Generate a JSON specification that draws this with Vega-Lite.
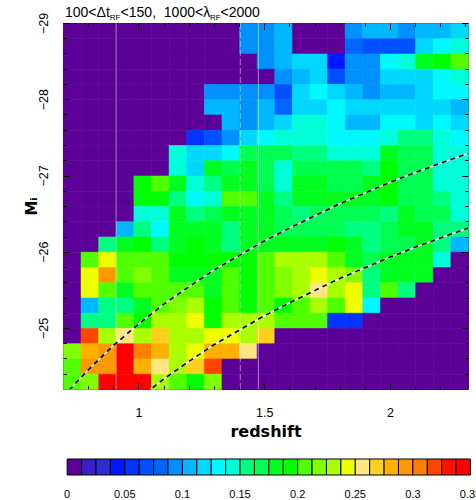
{
  "$schema": "https://vega.github.io/schema/vega-lite/v6.json",
  "padding": {"left": 23, "top": 5, "right": 0, "bottom": 0},
  "background": "#ffffff",
  "config": {
    "font": "Liberation Sans",
    "view": {"stroke": "#222222", "strokeWidth": 1},
    "axis": {"grid": false, "domain": false, "labelColor": "#000000", "tickColor": "#000000", "titleColor": "#000000", "tickWidth": 1}
  },
  "bounds": "flush",
  "spacing": 70,
  "datasets": {
    "cells": [
      {"z":0.735,"M":-28.9,"v":0},{"z":0.805,"M":-28.9,"v":0},{"z":0.875,"M":-28.9,"v":0},{"z":0.945,"M":-28.9,"v":0},{"z":1.015,"M":-28.9,"v":0},{"z":1.085,"M":-28.9,"v":0},{"z":1.155,"M":-28.9,"v":0},{"z":1.225,"M":-28.9,"v":0},{"z":1.295,"M":-28.9,"v":0},{"z":1.365,"M":-28.9,"v":0},{"z":1.435,"M":-28.9,"v":0.094},{"z":1.505,"M":-28.9,"v":0.094},{"z":1.575,"M":-28.9,"v":0.106},{"z":1.645,"M":-28.9,"v":0},{"z":1.715,"M":-28.9,"v":0},{"z":1.785,"M":-28.9,"v":0},{"z":1.855,"M":-28.9,"v":0.094},{"z":1.925,"M":-28.9,"v":0.106},{"z":1.995,"M":-28.9,"v":0.106},{"z":2.065,"M":-28.9,"v":0.094},{"z":2.135,"M":-28.9,"v":0.106},{"z":2.205,"M":-28.9,"v":0.106},{"z":2.275,"M":-28.9,"v":0.119},
      {"z":0.735,"M":-28.7,"v":0},{"z":0.805,"M":-28.7,"v":0},{"z":0.875,"M":-28.7,"v":0},{"z":0.945,"M":-28.7,"v":0},{"z":1.015,"M":-28.7,"v":0},{"z":1.085,"M":-28.7,"v":0},{"z":1.155,"M":-28.7,"v":0},{"z":1.225,"M":-28.7,"v":0},{"z":1.295,"M":-28.7,"v":0},{"z":1.365,"M":-28.7,"v":0},{"z":1.435,"M":-28.7,"v":0.094},{"z":1.505,"M":-28.7,"v":0.094},{"z":1.575,"M":-28.7,"v":0.106},{"z":1.645,"M":-28.7,"v":0},{"z":1.715,"M":-28.7,"v":0},{"z":1.785,"M":-28.7,"v":0},{"z":1.855,"M":-28.7,"v":0.081},{"z":1.925,"M":-28.7,"v":0.069},{"z":1.995,"M":-28.7,"v":0.069},{"z":2.065,"M":-28.7,"v":0.069},{"z":2.135,"M":-28.7,"v":0.119},{"z":2.205,"M":-28.7,"v":0.131},{"z":2.275,"M":-28.7,"v":0.144},
      {"z":0.735,"M":-28.5,"v":0},{"z":0.805,"M":-28.5,"v":0},{"z":0.875,"M":-28.5,"v":0},{"z":0.945,"M":-28.5,"v":0},{"z":1.015,"M":-28.5,"v":0},{"z":1.085,"M":-28.5,"v":0},{"z":1.155,"M":-28.5,"v":0},{"z":1.225,"M":-28.5,"v":0},{"z":1.295,"M":-28.5,"v":0},{"z":1.365,"M":-28.5,"v":0},{"z":1.435,"M":-28.5,"v":0},{"z":1.505,"M":-28.5,"v":0.094},{"z":1.575,"M":-28.5,"v":0.106},{"z":1.645,"M":-28.5,"v":0.119},{"z":1.715,"M":-28.5,"v":0.119},{"z":1.785,"M":-28.5,"v":0.044},{"z":1.855,"M":-28.5,"v":0.094},{"z":1.925,"M":-28.5,"v":0.094},{"z":1.995,"M":-28.5,"v":0.131},{"z":2.065,"M":-28.5,"v":0.144},{"z":2.135,"M":-28.5,"v":0.181},{"z":2.205,"M":-28.5,"v":0.194},{"z":2.275,"M":-28.5,"v":0.206},
      {"z":0.735,"M":-28.3,"v":0},{"z":0.805,"M":-28.3,"v":0},{"z":0.875,"M":-28.3,"v":0},{"z":0.945,"M":-28.3,"v":0},{"z":1.015,"M":-28.3,"v":0},{"z":1.085,"M":-28.3,"v":0},{"z":1.155,"M":-28.3,"v":0},{"z":1.225,"M":-28.3,"v":0},{"z":1.295,"M":-28.3,"v":0},{"z":1.365,"M":-28.3,"v":0},{"z":1.435,"M":-28.3,"v":0},{"z":1.505,"M":-28.3,"v":0},{"z":1.575,"M":-28.3,"v":0.094},{"z":1.645,"M":-28.3,"v":0.106},{"z":1.715,"M":-28.3,"v":0.119},{"z":1.785,"M":-28.3,"v":0.069},{"z":1.855,"M":-28.3,"v":0.094},{"z":1.925,"M":-28.3,"v":0.094},{"z":1.995,"M":-28.3,"v":0.119},{"z":2.065,"M":-28.3,"v":0.119},{"z":2.135,"M":-28.3,"v":0.119},{"z":2.205,"M":-28.3,"v":0.131},{"z":2.275,"M":-28.3,"v":0.144},
      {"z":0.735,"M":-28.1,"v":0},{"z":0.805,"M":-28.1,"v":0},{"z":0.875,"M":-28.1,"v":0},{"z":0.945,"M":-28.1,"v":0},{"z":1.015,"M":-28.1,"v":0},{"z":1.085,"M":-28.1,"v":0},{"z":1.155,"M":-28.1,"v":0},{"z":1.225,"M":-28.1,"v":0},{"z":1.295,"M":-28.1,"v":0.094},{"z":1.365,"M":-28.1,"v":0.094},{"z":1.435,"M":-28.1,"v":0.094},{"z":1.505,"M":-28.1,"v":0.094},{"z":1.575,"M":-28.1,"v":0.069},{"z":1.645,"M":-28.1,"v":0.119},{"z":1.715,"M":-28.1,"v":0.131},{"z":1.785,"M":-28.1,"v":0.119},{"z":1.855,"M":-28.1,"v":0.106},{"z":1.925,"M":-28.1,"v":0.094},{"z":1.995,"M":-28.1,"v":0.106},{"z":2.065,"M":-28.1,"v":0.106},{"z":2.135,"M":-28.1,"v":0.119},{"z":2.205,"M":-28.1,"v":0.131},{"z":2.275,"M":-28.1,"v":0.131},
      {"z":0.735,"M":-27.9,"v":0},{"z":0.805,"M":-27.9,"v":0},{"z":0.875,"M":-27.9,"v":0},{"z":0.945,"M":-27.9,"v":0},{"z":1.015,"M":-27.9,"v":0},{"z":1.085,"M":-27.9,"v":0},{"z":1.155,"M":-27.9,"v":0},{"z":1.225,"M":-27.9,"v":0},{"z":1.295,"M":-27.9,"v":0.106},{"z":1.365,"M":-27.9,"v":0.106},{"z":1.435,"M":-27.9,"v":0.094},{"z":1.505,"M":-27.9,"v":0.106},{"z":1.575,"M":-27.9,"v":0.081},{"z":1.645,"M":-27.9,"v":0.119},{"z":1.715,"M":-27.9,"v":0.119},{"z":1.785,"M":-27.9,"v":0.131},{"z":1.855,"M":-27.9,"v":0.119},{"z":1.925,"M":-27.9,"v":0.119},{"z":1.995,"M":-27.9,"v":0.119},{"z":2.065,"M":-27.9,"v":0.119},{"z":2.135,"M":-27.9,"v":0.119},{"z":2.205,"M":-27.9,"v":0.119},{"z":2.275,"M":-27.9,"v":0.106},
      {"z":0.735,"M":-27.7,"v":0},{"z":0.805,"M":-27.7,"v":0},{"z":0.875,"M":-27.7,"v":0},{"z":0.945,"M":-27.7,"v":0},{"z":1.015,"M":-27.7,"v":0},{"z":1.085,"M":-27.7,"v":0},{"z":1.155,"M":-27.7,"v":0},{"z":1.225,"M":-27.7,"v":0},{"z":1.295,"M":-27.7,"v":0},{"z":1.365,"M":-27.7,"v":0.106},{"z":1.435,"M":-27.7,"v":0.094},{"z":1.505,"M":-27.7,"v":0.106},{"z":1.575,"M":-27.7,"v":0.119},{"z":1.645,"M":-27.7,"v":0.144},{"z":1.715,"M":-27.7,"v":0.144},{"z":1.785,"M":-27.7,"v":0.131},{"z":1.855,"M":-27.7,"v":0.106},{"z":1.925,"M":-27.7,"v":0.106},{"z":1.995,"M":-27.7,"v":0.131},{"z":2.065,"M":-27.7,"v":0.131},{"z":2.135,"M":-27.7,"v":0.119},{"z":2.205,"M":-27.7,"v":0.131},{"z":2.275,"M":-27.7,"v":0.119},
      {"z":0.735,"M":-27.5,"v":0},{"z":0.805,"M":-27.5,"v":0},{"z":0.875,"M":-27.5,"v":0},{"z":0.945,"M":-27.5,"v":0},{"z":1.015,"M":-27.5,"v":0},{"z":1.085,"M":-27.5,"v":0},{"z":1.155,"M":-27.5,"v":0},{"z":1.225,"M":-27.5,"v":0.056},{"z":1.295,"M":-27.5,"v":0.069},{"z":1.365,"M":-27.5,"v":0.094},{"z":1.435,"M":-27.5,"v":0.119},{"z":1.505,"M":-27.5,"v":0.131},{"z":1.575,"M":-27.5,"v":0.144},{"z":1.645,"M":-27.5,"v":0.144},{"z":1.715,"M":-27.5,"v":0.144},{"z":1.785,"M":-27.5,"v":0.131},{"z":1.855,"M":-27.5,"v":0.131},{"z":1.925,"M":-27.5,"v":0.131},{"z":1.995,"M":-27.5,"v":0.144},{"z":2.065,"M":-27.5,"v":0.156},{"z":2.135,"M":-27.5,"v":0.156},{"z":2.205,"M":-27.5,"v":0.144},{"z":2.275,"M":-27.5,"v":0.131},
      {"z":0.735,"M":-27.3,"v":0},{"z":0.805,"M":-27.3,"v":0},{"z":0.875,"M":-27.3,"v":0},{"z":0.945,"M":-27.3,"v":0},{"z":1.015,"M":-27.3,"v":0},{"z":1.085,"M":-27.3,"v":0},{"z":1.155,"M":-27.3,"v":0.144},{"z":1.225,"M":-27.3,"v":0.119},{"z":1.295,"M":-27.3,"v":0.119},{"z":1.365,"M":-27.3,"v":0.131},{"z":1.435,"M":-27.3,"v":0.169},{"z":1.505,"M":-27.3,"v":0.169},{"z":1.575,"M":-27.3,"v":0.169},{"z":1.645,"M":-27.3,"v":0.156},{"z":1.715,"M":-27.3,"v":0.156},{"z":1.785,"M":-27.3,"v":0.144},{"z":1.855,"M":-27.3,"v":0.144},{"z":1.925,"M":-27.3,"v":0.144},{"z":1.995,"M":-27.3,"v":0.181},{"z":2.065,"M":-27.3,"v":0.169},{"z":2.135,"M":-27.3,"v":0.169},{"z":2.205,"M":-27.3,"v":0.144},{"z":2.275,"M":-27.3,"v":0.144},
      {"z":0.735,"M":-27.1,"v":0},{"z":0.805,"M":-27.1,"v":0},{"z":0.875,"M":-27.1,"v":0},{"z":0.945,"M":-27.1,"v":0},{"z":1.015,"M":-27.1,"v":0},{"z":1.085,"M":-27.1,"v":0},{"z":1.155,"M":-27.1,"v":0.144},{"z":1.225,"M":-27.1,"v":0.119},{"z":1.295,"M":-27.1,"v":0.181},{"z":1.365,"M":-27.1,"v":0.169},{"z":1.435,"M":-27.1,"v":0.181},{"z":1.505,"M":-27.1,"v":0.169},{"z":1.575,"M":-27.1,"v":0.144},{"z":1.645,"M":-27.1,"v":0.169},{"z":1.715,"M":-27.1,"v":0.169},{"z":1.785,"M":-27.1,"v":0.169},{"z":1.855,"M":-27.1,"v":0.169},{"z":1.925,"M":-27.1,"v":0.156},{"z":1.995,"M":-27.1,"v":0.194},{"z":2.065,"M":-27.1,"v":0.169},{"z":2.135,"M":-27.1,"v":0.169},{"z":2.205,"M":-27.1,"v":0.144},{"z":2.275,"M":-27.1,"v":0.144},
      {"z":0.735,"M":-26.9,"v":0},{"z":0.805,"M":-26.9,"v":0},{"z":0.875,"M":-26.9,"v":0},{"z":0.945,"M":-26.9,"v":0},{"z":1.015,"M":-26.9,"v":0.194},{"z":1.085,"M":-26.9,"v":0.206},{"z":1.155,"M":-26.9,"v":0.181},{"z":1.225,"M":-26.9,"v":0.144},{"z":1.295,"M":-26.9,"v":0.156},{"z":1.365,"M":-26.9,"v":0.181},{"z":1.435,"M":-26.9,"v":0.181},{"z":1.505,"M":-26.9,"v":0.169},{"z":1.575,"M":-26.9,"v":0.144},{"z":1.645,"M":-26.9,"v":0.181},{"z":1.715,"M":-26.9,"v":0.181},{"z":1.785,"M":-26.9,"v":0.169},{"z":1.855,"M":-26.9,"v":0.169},{"z":1.925,"M":-26.9,"v":0.181},{"z":1.995,"M":-26.9,"v":0.194},{"z":2.065,"M":-26.9,"v":0.169},{"z":2.135,"M":-26.9,"v":0.169},{"z":2.205,"M":-26.9,"v":0.144},{"z":2.275,"M":-26.9,"v":0.144},
      {"z":0.735,"M":-26.7,"v":0},{"z":0.805,"M":-26.7,"v":0},{"z":0.875,"M":-26.7,"v":0},{"z":0.945,"M":-26.7,"v":0},{"z":1.015,"M":-26.7,"v":0.194},{"z":1.085,"M":-26.7,"v":0.194},{"z":1.155,"M":-26.7,"v":0.156},{"z":1.225,"M":-26.7,"v":0.131},{"z":1.295,"M":-26.7,"v":0.144},{"z":1.365,"M":-26.7,"v":0.206},{"z":1.435,"M":-26.7,"v":0.206},{"z":1.505,"M":-26.7,"v":0.181},{"z":1.575,"M":-26.7,"v":0.156},{"z":1.645,"M":-26.7,"v":0.181},{"z":1.715,"M":-26.7,"v":0.181},{"z":1.785,"M":-26.7,"v":0.181},{"z":1.855,"M":-26.7,"v":0.181},{"z":1.925,"M":-26.7,"v":0.181},{"z":1.995,"M":-26.7,"v":0.194},{"z":2.065,"M":-26.7,"v":0.169},{"z":2.135,"M":-26.7,"v":0.169},{"z":2.205,"M":-26.7,"v":0.156},{"z":2.275,"M":-26.7,"v":0.144},
      {"z":0.735,"M":-26.5,"v":0},{"z":0.805,"M":-26.5,"v":0},{"z":0.875,"M":-26.5,"v":0},{"z":0.945,"M":-26.5,"v":0},{"z":1.015,"M":-26.5,"v":0.144},{"z":1.085,"M":-26.5,"v":0.144},{"z":1.155,"M":-26.5,"v":0.181},{"z":1.225,"M":-26.5,"v":0.156},{"z":1.295,"M":-26.5,"v":0.169},{"z":1.365,"M":-26.5,"v":0.181},{"z":1.435,"M":-26.5,"v":0.181},{"z":1.505,"M":-26.5,"v":0.181},{"z":1.575,"M":-26.5,"v":0.169},{"z":1.645,"M":-26.5,"v":0.156},{"z":1.715,"M":-26.5,"v":0.169},{"z":1.785,"M":-26.5,"v":0.169},{"z":1.855,"M":-26.5,"v":0.169},{"z":1.925,"M":-26.5,"v":0.169},{"z":1.995,"M":-26.5,"v":0.156},{"z":2.065,"M":-26.5,"v":0.181},{"z":2.135,"M":-26.5,"v":0.169},{"z":2.205,"M":-26.5,"v":0.169},{"z":2.275,"M":-26.5,"v":0.144},
      {"z":0.735,"M":-26.3,"v":0},{"z":0.805,"M":-26.3,"v":0},{"z":0.875,"M":-26.3,"v":0},{"z":0.945,"M":-26.3,"v":0.106},{"z":1.015,"M":-26.3,"v":0.156},{"z":1.085,"M":-26.3,"v":0.131},{"z":1.155,"M":-26.3,"v":0.181},{"z":1.225,"M":-26.3,"v":0.181},{"z":1.295,"M":-26.3,"v":0.181},{"z":1.365,"M":-26.3,"v":0.156},{"z":1.435,"M":-26.3,"v":0.181},{"z":1.505,"M":-26.3,"v":0.181},{"z":1.575,"M":-26.3,"v":0.169},{"z":1.645,"M":-26.3,"v":0.169},{"z":1.715,"M":-26.3,"v":0.169},{"z":1.785,"M":-26.3,"v":0.169},{"z":1.855,"M":-26.3,"v":0.156},{"z":1.925,"M":-26.3,"v":0.156},{"z":1.995,"M":-26.3,"v":0.169},{"z":2.065,"M":-26.3,"v":0.181},{"z":2.135,"M":-26.3,"v":0.181},{"z":2.205,"M":-26.3,"v":0.156},{"z":2.275,"M":-26.3,"v":0.156},
      {"z":0.735,"M":-26.1,"v":0},{"z":0.805,"M":-26.1,"v":0},{"z":0.875,"M":-26.1,"v":0.156},{"z":0.945,"M":-26.1,"v":0.181},{"z":1.015,"M":-26.1,"v":0.194},{"z":1.085,"M":-26.1,"v":0.156},{"z":1.155,"M":-26.1,"v":0.181},{"z":1.225,"M":-26.1,"v":0.194},{"z":1.295,"M":-26.1,"v":0.181},{"z":1.365,"M":-26.1,"v":0.156},{"z":1.435,"M":-26.1,"v":0.181},{"z":1.505,"M":-26.1,"v":0.181},{"z":1.575,"M":-26.1,"v":0.181},{"z":1.645,"M":-26.1,"v":0.181},{"z":1.715,"M":-26.1,"v":0.181},{"z":1.785,"M":-26.1,"v":0.194},{"z":1.855,"M":-26.1,"v":0.181},{"z":1.925,"M":-26.1,"v":0.156},{"z":1.995,"M":-26.1,"v":0.169},{"z":2.065,"M":-26.1,"v":0.169},{"z":2.135,"M":-26.1,"v":0.181},{"z":2.205,"M":-26.1,"v":0.156},{"z":2.275,"M":-26.1,"v":0.106},
      {"z":0.735,"M":-25.9,"v":0},{"z":0.805,"M":-25.9,"v":0.206},{"z":0.875,"M":-25.9,"v":0.244},{"z":0.945,"M":-25.9,"v":0.206},{"z":1.015,"M":-25.9,"v":0.206},{"z":1.085,"M":-25.9,"v":0.206},{"z":1.155,"M":-25.9,"v":0.194},{"z":1.225,"M":-25.9,"v":0.194},{"z":1.295,"M":-25.9,"v":0.194},{"z":1.365,"M":-25.9,"v":0.194},{"z":1.435,"M":-25.9,"v":0.194},{"z":1.505,"M":-25.9,"v":0.206},{"z":1.575,"M":-25.9,"v":0.231},{"z":1.645,"M":-25.9,"v":0.231},{"z":1.715,"M":-25.9,"v":0.231},{"z":1.785,"M":-25.9,"v":0.206},{"z":1.855,"M":-25.9,"v":0.181},{"z":1.925,"M":-25.9,"v":0.169},{"z":1.995,"M":-25.9,"v":0.181},{"z":2.065,"M":-25.9,"v":0.181},{"z":2.135,"M":-25.9,"v":0.181},{"z":2.205,"M":-25.9,"v":0.144},{"z":2.275,"M":-25.9,"v":0},
      {"z":0.735,"M":-25.7,"v":0},{"z":0.805,"M":-25.7,"v":0.244},{"z":0.875,"M":-25.7,"v":0.294},{"z":0.945,"M":-25.7,"v":0.206},{"z":1.015,"M":-25.7,"v":0.219},{"z":1.085,"M":-25.7,"v":0.206},{"z":1.155,"M":-25.7,"v":0.181},{"z":1.225,"M":-25.7,"v":0.181},{"z":1.295,"M":-25.7,"v":0.181},{"z":1.365,"M":-25.7,"v":0.206},{"z":1.435,"M":-25.7,"v":0.194},{"z":1.505,"M":-25.7,"v":0.206},{"z":1.575,"M":-25.7,"v":0.219},{"z":1.645,"M":-25.7,"v":0.231},{"z":1.715,"M":-25.7,"v":0.244},{"z":1.785,"M":-25.7,"v":0.231},{"z":1.855,"M":-25.7,"v":0.219},{"z":1.925,"M":-25.7,"v":0.156},{"z":1.995,"M":-25.7,"v":0.181},{"z":2.065,"M":-25.7,"v":0.181},{"z":2.135,"M":-25.7,"v":0.181},{"z":2.205,"M":-25.7,"v":0},{"z":2.275,"M":-25.7,"v":0},
      {"z":0.735,"M":-25.5,"v":0},{"z":0.805,"M":-25.5,"v":0.244},{"z":0.875,"M":-25.5,"v":0.206},{"z":0.945,"M":-25.5,"v":0.181},{"z":1.015,"M":-25.5,"v":0.206},{"z":1.085,"M":-25.5,"v":0.206},{"z":1.155,"M":-25.5,"v":0.206},{"z":1.225,"M":-25.5,"v":0.206},{"z":1.295,"M":-25.5,"v":0.181},{"z":1.365,"M":-25.5,"v":0.206},{"z":1.435,"M":-25.5,"v":0.194},{"z":1.505,"M":-25.5,"v":0.206},{"z":1.575,"M":-25.5,"v":0.219},{"z":1.645,"M":-25.5,"v":0.231},{"z":1.715,"M":-25.5,"v":0.256},{"z":1.785,"M":-25.5,"v":0.231},{"z":1.855,"M":-25.5,"v":0.244},{"z":1.925,"M":-25.5,"v":0.156},{"z":1.995,"M":-25.5,"v":0.206},{"z":2.065,"M":-25.5,"v":0.156},{"z":2.135,"M":-25.5,"v":0},{"z":2.205,"M":-25.5,"v":0},{"z":2.275,"M":-25.5,"v":0},
      {"z":0.735,"M":-25.3,"v":0},{"z":0.805,"M":-25.3,"v":0.106},{"z":0.875,"M":-25.3,"v":0.156},{"z":0.945,"M":-25.3,"v":0.156},{"z":1.015,"M":-25.3,"v":0.181},{"z":1.085,"M":-25.3,"v":0.206},{"z":1.155,"M":-25.3,"v":0.219},{"z":1.225,"M":-25.3,"v":0.231},{"z":1.295,"M":-25.3,"v":0.194},{"z":1.365,"M":-25.3,"v":0.206},{"z":1.435,"M":-25.3,"v":0.194},{"z":1.505,"M":-25.3,"v":0.206},{"z":1.575,"M":-25.3,"v":0.194},{"z":1.645,"M":-25.3,"v":0.206},{"z":1.715,"M":-25.3,"v":0.231},{"z":1.785,"M":-25.3,"v":0.206},{"z":1.855,"M":-25.3,"v":0.244},{"z":1.925,"M":-25.3,"v":0.131},{"z":1.995,"M":-25.3,"v":0},{"z":2.065,"M":-25.3,"v":0},{"z":2.135,"M":-25.3,"v":0},{"z":2.205,"M":-25.3,"v":0},{"z":2.275,"M":-25.3,"v":0},
      {"z":0.735,"M":-25.1,"v":0},{"z":0.805,"M":-25.1,"v":0.156},{"z":0.875,"M":-25.1,"v":0.156},{"z":0.945,"M":-25.1,"v":0.206},{"z":1.015,"M":-25.1,"v":0.194},{"z":1.085,"M":-25.1,"v":0.231},{"z":1.155,"M":-25.1,"v":0.231},{"z":1.225,"M":-25.1,"v":0.244},{"z":1.295,"M":-25.1,"v":0.194},{"z":1.365,"M":-25.1,"v":0.231},{"z":1.435,"M":-25.1,"v":0.231},{"z":1.505,"M":-25.1,"v":0.231},{"z":1.575,"M":-25.1,"v":0.206},{"z":1.645,"M":-25.1,"v":0.206},{"z":1.715,"M":-25.1,"v":0.206},{"z":1.785,"M":-25.1,"v":0.056},{"z":1.855,"M":-25.1,"v":0.056},{"z":1.925,"M":-25.1,"v":0},{"z":1.995,"M":-25.1,"v":0},{"z":2.065,"M":-25.1,"v":0},{"z":2.135,"M":-25.1,"v":0},{"z":2.205,"M":-25.1,"v":0},{"z":2.275,"M":-25.1,"v":0},
      {"z":0.735,"M":-24.9,"v":0},{"z":0.805,"M":-24.9,"v":0.319},{"z":0.875,"M":-24.9,"v":0.231},{"z":0.945,"M":-24.9,"v":0.256},{"z":1.015,"M":-24.9,"v":0.231},{"z":1.085,"M":-24.9,"v":0.269},{"z":1.155,"M":-24.9,"v":0.231},{"z":1.225,"M":-24.9,"v":0.231},{"z":1.295,"M":-24.9,"v":0.244},{"z":1.365,"M":-24.9,"v":0.244},{"z":1.435,"M":-24.9,"v":0.231},{"z":1.505,"M":-24.9,"v":0.269},{"z":1.575,"M":-24.9,"v":0},{"z":1.645,"M":-24.9,"v":0},{"z":1.715,"M":-24.9,"v":0},{"z":1.785,"M":-24.9,"v":0},{"z":1.855,"M":-24.9,"v":0},{"z":1.925,"M":-24.9,"v":0},{"z":1.995,"M":-24.9,"v":0},{"z":2.065,"M":-24.9,"v":0},{"z":2.135,"M":-24.9,"v":0},{"z":2.205,"M":-24.9,"v":0},{"z":2.275,"M":-24.9,"v":0},
      {"z":0.735,"M":-24.7,"v":0.219},{"z":0.805,"M":-24.7,"v":0.281},{"z":0.875,"M":-24.7,"v":0.294},{"z":0.945,"M":-24.7,"v":0.344},{"z":1.015,"M":-24.7,"v":0.306},{"z":1.085,"M":-24.7,"v":0.281},{"z":1.155,"M":-24.7,"v":0.231},{"z":1.225,"M":-24.7,"v":0.244},{"z":1.295,"M":-24.7,"v":0.281},{"z":1.365,"M":-24.7,"v":0.281},{"z":1.435,"M":-24.7,"v":0.256},{"z":1.505,"M":-24.7,"v":0},{"z":1.575,"M":-24.7,"v":0},{"z":1.645,"M":-24.7,"v":0},{"z":1.715,"M":-24.7,"v":0},{"z":1.785,"M":-24.7,"v":0},{"z":1.855,"M":-24.7,"v":0},{"z":1.925,"M":-24.7,"v":0},{"z":1.995,"M":-24.7,"v":0},{"z":2.065,"M":-24.7,"v":0},{"z":2.135,"M":-24.7,"v":0},{"z":2.205,"M":-24.7,"v":0},{"z":2.275,"M":-24.7,"v":0},
      {"z":0.735,"M":-24.5,"v":0.206},{"z":0.805,"M":-24.5,"v":0.294},{"z":0.875,"M":-24.5,"v":0.294},{"z":0.945,"M":-24.5,"v":0.344},{"z":1.015,"M":-24.5,"v":0.281},{"z":1.085,"M":-24.5,"v":0.256},{"z":1.155,"M":-24.5,"v":0.231},{"z":1.225,"M":-24.5,"v":0.269},{"z":1.295,"M":-24.5,"v":0.319},{"z":1.365,"M":-24.5,"v":0},{"z":1.435,"M":-24.5,"v":0},{"z":1.505,"M":-24.5,"v":0},{"z":1.575,"M":-24.5,"v":0},{"z":1.645,"M":-24.5,"v":0},{"z":1.715,"M":-24.5,"v":0},{"z":1.785,"M":-24.5,"v":0},{"z":1.855,"M":-24.5,"v":0},{"z":1.925,"M":-24.5,"v":0},{"z":1.995,"M":-24.5,"v":0},{"z":2.065,"M":-24.5,"v":0},{"z":2.135,"M":-24.5,"v":0},{"z":2.205,"M":-24.5,"v":0},{"z":2.275,"M":-24.5,"v":0},
      {"z":0.735,"M":-24.3,"v":0.206},{"z":0.805,"M":-24.3,"v":0.219},{"z":0.875,"M":-24.3,"v":0.344},{"z":0.945,"M":-24.3,"v":0.344},{"z":1.015,"M":-24.3,"v":0.344},{"z":1.085,"M":-24.3,"v":0.231},{"z":1.155,"M":-24.3,"v":0.206},{"z":1.225,"M":-24.3,"v":0.194},{"z":1.295,"M":-24.3,"v":0.219},{"z":1.365,"M":-24.3,"v":0},{"z":1.435,"M":-24.3,"v":0},{"z":1.505,"M":-24.3,"v":0},{"z":1.575,"M":-24.3,"v":0},{"z":1.645,"M":-24.3,"v":0},{"z":1.715,"M":-24.3,"v":0},{"z":1.785,"M":-24.3,"v":0},{"z":1.855,"M":-24.3,"v":0},{"z":1.925,"M":-24.3,"v":0},{"z":1.995,"M":-24.3,"v":0},{"z":2.065,"M":-24.3,"v":0},{"z":2.135,"M":-24.3,"v":0},{"z":2.205,"M":-24.3,"v":0},{"z":2.275,"M":-24.3,"v":0}
    ],
    "curves": [
      {"curve":"bright","z":0.70,"M":-24.10},{"curve":"bright","z":0.80,"M":-24.45},{"curve":"bright","z":0.90,"M":-24.77},{"curve":"bright","z":1.00,"M":-25.05},{"curve":"bright","z":1.10,"M":-25.31},{"curve":"bright","z":1.20,"M":-25.54},{"curve":"bright","z":1.30,"M":-25.76},{"curve":"bright","z":1.40,"M":-25.95},{"curve":"bright","z":1.50,"M":-26.14},{"curve":"bright","z":1.60,"M":-26.31},{"curve":"bright","z":1.70,"M":-26.47},{"curve":"bright","z":1.80,"M":-26.63},{"curve":"bright","z":1.90,"M":-26.77},{"curve":"bright","z":2.00,"M":-26.91},{"curve":"bright","z":2.10,"M":-27.04},{"curve":"bright","z":2.20,"M":-27.16},{"curve":"bright","z":2.31,"M":-27.29},
      {"curve":"faint","z":1.00,"M":-24.07},{"curve":"faint","z":1.10,"M":-24.33},{"curve":"faint","z":1.20,"M":-24.56},{"curve":"faint","z":1.30,"M":-24.78},{"curve":"faint","z":1.40,"M":-24.97},{"curve":"faint","z":1.50,"M":-25.16},{"curve":"faint","z":1.60,"M":-25.33},{"curve":"faint","z":1.70,"M":-25.49},{"curve":"faint","z":1.80,"M":-25.65},{"curve":"faint","z":1.90,"M":-25.79},{"curve":"faint","z":2.00,"M":-25.93},{"curve":"faint","z":2.10,"M":-26.06},{"curve":"faint","z":2.20,"M":-26.18},{"curve":"faint","z":2.31,"M":-26.31}
    ],
    "solidMarkers": [{"z":0.911},{"z":1.477}],
    "dashedMarkers": [{"z":1.405}],
    "titleMain": [{"z":0.708,"M":-29,"t":"100<Δt"},{"z":0.929,"M":-29,"t":"<150,\u00a0\u00a01000<λ"},{"z":1.326,"M":-29,"t":"<2000"}],
    "titleSub": [{"z":0.886,"M":-29,"t":"RF"},{"z":1.284,"M":-29,"t":"RF"}],
    "bar": [
      {"v":0.00625},{"v":0.01875},{"v":0.03125},{"v":0.04375},{"v":0.05625},{"v":0.06875},{"v":0.08125},{"v":0.09375},{"v":0.10625},{"v":0.11875},{"v":0.13125},{"v":0.14375},{"v":0.15625},{"v":0.16875},{"v":0.18125},{"v":0.19375},{"v":0.20625},{"v":0.21875},{"v":0.23125},{"v":0.24375},{"v":0.25625},{"v":0.26875},{"v":0.28125},{"v":0.29375},{"v":0.30625},{"v":0.31875},{"v":0.33125},{"v":0.34375}
    ]
  },
  "vconcat": [
    {
      "width": 405,
      "height": 366,
      "resolve": {"axis": {"x": "independent", "y": "independent"}},
      "layer": [
        {
          "data": {"name": "cells"},
          "mark": {"type": "rect", "strokeWidth": 0.6},
          "encoding": {
            "x": {"field": "z", "type": "quantitative", "bin": {"step": 0.07, "extent": [0.7, 2.31], "nice": false},
                  "scale": {"domain": [0.7, 2.31], "nice": false, "zero": false},
                  "axis": {"orient": "bottom", "values": [1, 1.5, 2], "format": "~g", "ticks": false, "tickSize": 0, "domain": false, "labelPadding": 17, "labelFontSize": 12.5, "labelFlush": false, "title": "redshift", "titleFont": "DejaVu Sans", "titleFontSize": 16, "titleFontWeight": "bold", "titlePadding": 5}},
            "y": {"field": "M", "type": "quantitative", "bin": {"step": 0.2, "extent": [-29, -24.2], "nice": false},
                  "scale": {"domain": [-29, -24.2], "reverse": true, "nice": false, "zero": false},
                  "axis": {"orient": "left", "values": [-29, -28, -27, -26, -25], "format": "~g", "ticks": false, "tickSize": 0, "domain": false, "labelAngle": 270, "labelAlign": "center", "labelBaseline": "bottom", "labelPadding": 13, "labelFontSize": 12.5, "title": "Mᵢ", "titleFont": "DejaVu Sans", "titleFontSize": 15, "titleFontWeight": "bold", "titlePadding": -2}},
            "fill": {"field": "v", "type": "quantitative", "legend": null,
                     "scale": {"type": "quantize", "domain": [0, 0.35], "nice": false, "zero": false,
                               "range": ["#5c0097", "#3a1fc8", "#2d2dd2", "#0018ff", "#0034ff", "#0050ff", "#0064ff", "#0090ff", "#00b8ff", "#00d8ff", "#00f8ff", "#00ffd8", "#00ff80", "#00ff50", "#00ff20", "#00ff00", "#50ff00", "#80ff00", "#aaff00", "#eeff00", "#ffe680", "#ffd020", "#ffb000", "#ff9800", "#ff8000", "#ff4400", "#ff1000", "#ff0000"]}},
            "stroke": {"field": "v", "type": "quantitative", "legend": null,
                       "scale": {"type": "quantize", "domain": [0, 0.35], "nice": false, "zero": false,
                                 "range": ["#5c0097", "#3a1fc8", "#2d2dd2", "#0018ff", "#0034ff", "#0050ff", "#0064ff", "#0090ff", "#00b8ff", "#00d8ff", "#00f8ff", "#00ffd8", "#00ff80", "#00ff50", "#00ff20", "#00ff00", "#50ff00", "#80ff00", "#aaff00", "#eeff00", "#ffe680", "#ffd020", "#ffb000", "#ff9800", "#ff8000", "#ff4400", "#ff1000", "#ff0000"]}}
          }
        },
        {
          "data": {"name": "solidMarkers"},
          "mark": {"type": "rule", "color": "#ffffff", "opacity": 0.45, "strokeWidth": 1},
          "encoding": {
            "x": {"field": "z", "type": "quantitative", "scale": {"domain": [0.7, 2.31], "nice": false, "zero": false}, "axis": null}
          }
        },
        {
          "data": {"name": "dashedMarkers"},
          "mark": {"type": "rule", "color": "#ffffff", "opacity": 0.45, "strokeWidth": 1, "strokeDash": [6, 3]},
          "encoding": {
            "x": {"field": "z", "type": "quantitative", "scale": {"domain": [0.7, 2.31], "nice": false, "zero": false}, "axis": null}
          }
        },
        {
          "data": {"name": "curves"},
          "mark": {"type": "line", "color": "#ffffff", "strokeWidth": 1.6, "clip": true},
          "encoding": {
            "x": {"field": "z", "type": "quantitative", "scale": {"domain": [0.7, 2.31], "nice": false, "zero": false},
                  "axis": {"orient": "bottom", "values": [1, 1.5, 2], "labels": false, "domain": false, "tickSize": -6.5, "title": null, "zindex": 2}},
            "y": {"field": "M", "type": "quantitative", "scale": {"domain": [-29, -24.2], "reverse": true, "nice": false, "zero": false},
                  "axis": {"orient": "left", "values": [-29, -28, -27, -26, -25], "labels": false, "domain": false, "tickSize": -6.5, "title": null, "zindex": 2}},
            "detail": {"field": "curve"}
          }
        },
        {
          "data": {"name": "curves"},
          "mark": {"type": "line", "color": "#000000", "strokeWidth": 1.6, "strokeDash": [5, 4], "clip": true},
          "encoding": {
            "x": {"field": "z", "type": "quantitative", "scale": {"domain": [0.7, 2.31], "nice": false, "zero": false},
                  "axis": {"orient": "bottom", "values": [0.8, 0.9, 1.1, 1.2, 1.3, 1.4, 1.6, 1.7, 1.8, 1.9, 2.1, 2.2, 2.3], "labels": false, "domain": false, "tickSize": -3.5, "title": null, "zindex": 2}},
            "y": {"field": "M", "type": "quantitative", "scale": {"domain": [-29, -24.2], "reverse": true, "nice": false, "zero": false},
                  "axis": {"orient": "left", "values": [-28.8, -28.6, -28.4, -28.2, -27.8, -27.6, -27.4, -27.2, -26.8, -26.6, -26.4, -26.2, -25.8, -25.6, -25.4, -25.2, -24.8, -24.6, -24.4], "labels": false, "domain": false, "tickSize": -3.5, "title": null, "zindex": 2}},
            "detail": {"field": "curve"}
          }
        },
        {
          "data": {"name": "titleMain"},
          "mark": {"type": "text", "align": "left", "baseline": "alphabetic", "dy": -6, "fontSize": 14, "font": "Liberation Sans", "color": "#000000"},
          "encoding": {
            "x": {"field": "z", "type": "quantitative", "scale": {"domain": [0.7, 2.31], "nice": false, "zero": false},
                  "axis": {"orient": "top", "values": [1, 1.5, 2], "labels": false, "domain": false, "tickSize": -6.5, "title": null, "zindex": 2}},
            "y": {"field": "M", "type": "quantitative", "scale": {"domain": [-29, -24.2], "reverse": true, "nice": false, "zero": false},
                  "axis": {"orient": "right", "values": [-29, -28, -27, -26, -25], "labels": false, "domain": false, "tickSize": -6.5, "title": null, "zindex": 2}},
            "text": {"field": "t"}
          }
        },
        {
          "data": {"name": "titleSub"},
          "mark": {"type": "text", "align": "left", "baseline": "alphabetic", "dy": -3.5, "fontSize": 8, "font": "Liberation Sans", "color": "#000000"},
          "encoding": {
            "x": {"field": "z", "type": "quantitative", "scale": {"domain": [0.7, 2.31], "nice": false, "zero": false},
                  "axis": {"orient": "top", "values": [0.8, 0.9, 1.1, 1.2, 1.3, 1.4, 1.6, 1.7, 1.8, 1.9, 2.1, 2.2, 2.3], "labels": false, "domain": false, "tickSize": -3.5, "title": null, "zindex": 2}},
            "y": {"field": "M", "type": "quantitative", "scale": {"domain": [-29, -24.2], "reverse": true, "nice": false, "zero": false},
                  "axis": {"orient": "right", "values": [-28.8, -28.6, -28.4, -28.2, -27.8, -27.6, -27.4, -27.2, -26.8, -26.6, -26.4, -26.2, -25.8, -25.6, -25.4, -25.2, -24.8, -24.6, -24.4], "labels": false, "domain": false, "tickSize": -3.5, "title": null, "zindex": 2}},
            "text": {"field": "t"}
          }
        }
      ]
    },
    {
      "width": 407,
      "height": 16,
      "view": {"stroke": null},
      "data": {"name": "bar"},
      "mark": {"type": "rect", "stroke": "#000000", "strokeWidth": 1},
      "encoding": {
        "x": {"field": "v", "type": "quantitative", "bin": {"step": 0.0125, "extent": [0, 0.35], "nice": false},
              "scale": {"domain": [-0.0032, 0.35], "nice": false, "zero": false},
              "axis": {"orient": "bottom", "values": [0, 0.05, 0.1, 0.15, 0.2, 0.25, 0.3, 0.35], "format": "~g", "ticks": false, "domain": false, "labelPadding": 13, "labelFontSize": 11, "labelFlush": false, "labelOverlap": false, "title": null}},
        "fill": {"field": "v", "type": "quantitative", "legend": null,
                 "scale": {"type": "quantize", "domain": [0, 0.35], "nice": false, "zero": false,
                           "range": ["#5c0097", "#3a1fc8", "#2d2dd2", "#0018ff", "#0034ff", "#0050ff", "#0064ff", "#0090ff", "#00b8ff", "#00d8ff", "#00f8ff", "#00ffd8", "#00ff80", "#00ff50", "#00ff20", "#00ff00", "#50ff00", "#80ff00", "#aaff00", "#eeff00", "#ffe680", "#ffd020", "#ffb000", "#ff9800", "#ff8000", "#ff4400", "#ff1000", "#ff0000"]}}
      }
    }
  ]
}
